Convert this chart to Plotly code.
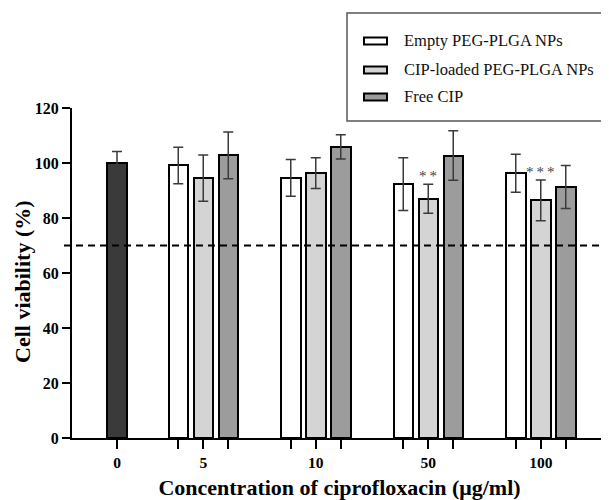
import plotly.graph_objects as go

# ---- data ----
groups = ["0", "5", "10", "50", "100"]
control_name = "Control"
control_mean = [100.0]
control_sd = [4.2]
series_names = ["Empty PEG-PLGA NPs", "CIP-loaded PEG-PLGA NPs", "Free CIP"]
empty_mean = [99.1, 94.6, 92.3, 96.3]
empty_sd = [6.6, 6.7, 9.6, 6.9]
cip_np_mean = [94.5, 96.3, 87.0, 86.4]
cip_np_sd = [8.4, 5.6, 5.3, 7.4]
free_mean = [102.8, 105.9, 102.7, 91.3]
free_sd = [8.5, 4.4, 9.0, 7.8]
significance = ["", "", "**", "***"]  # above CIP-loaded bars
threshold = 70
yticks = [0, 20, 40, 60, 80, 100, 120]

# ---- layout helpers (positions in bar-slot units) ----
first_center = 1.8
centers = [first_center] + [5.25 + 4.5 * i for i in range(len(groups) - 1)]
bar_w = 0.78
offsets = [-1, 0, 1]
fills = ["#ffffff", "#d4d4d4", "#9c9c9c"]
serif = "Liberation Serif, Times New Roman, serif"

# page has an 8px body margin; size the figure to fit the 609x500 window
PAGE = 8
W, H = 609 - PAGE, 500 - PAGE
ml, mr, mt, mb = 64, 2, 100, 62
pw, ph = W - ml - mr, H - mt - mb

def px(x):  # screen x -> paper
    return (x - PAGE - ml) / pw

def py(y):  # screen y -> paper
    return (PAGE + H - mb - y) / ph

fig = go.Figure()

err_style = dict(type="data", visible=True, color="#3a3a3a", thickness=1.5, width=5)

fig.add_trace(go.Bar(
    x=[centers[0]], y=control_mean, width=bar_w, name=control_name,
    marker=dict(color="#3a3a3a", line=dict(color="#000000", width=2)),
    error_y=dict(array=control_sd, **err_style), showlegend=False))

all_means = [empty_mean, cip_np_mean, free_mean]
all_sds = [empty_sd, cip_np_sd, free_sd]
for k, name in enumerate(series_names):
    xs = [c + offsets[k] for c in centers[1:]]
    fig.add_trace(go.Bar(
        x=xs, y=all_means[k], width=bar_w, name=name,
        marker=dict(color=fills[k], line=dict(color="#000000", width=2)),
        error_y=dict(array=all_sds[k], **err_style), showlegend=False))

# significance marks
for i, s in enumerate(significance):
    if s:
        fig.add_annotation(x=centers[i + 1] + offsets[1], y=cip_np_mean[i] + cip_np_sd[i],
                           text="\u2009".join(s), showarrow=False, yanchor="bottom", yshift=-2,
                           font=dict(family=serif, size=15, color="#444444"))

# threshold dashed line
fig.add_shape(type="line", xref="paper", yref="y", x0=px(64), x1=px(608), y0=threshold, y1=threshold,
              line=dict(color="#000000", width=2, dash="7px,5px"))

# tick positions: every bar, labels only at group centres
tickvals, ticktext = [centers[0]], [groups[0]]
for i, c in enumerate(centers[1:]):
    for o in offsets:
        tickvals.append(c + o)
        ticktext.append(groups[i + 1] if o == 0 else "")

# manual legend
fig.add_shape(type="rect", xref="paper", yref="paper", x0=px(347), x1=px(640), y0=py(121), y1=py(13),
              line=dict(color="#555555", width=1.5), fillcolor="rgba(0,0,0,0)")
rows = [41, 70, 97]
for k, name in enumerate(series_names):
    fig.add_shape(type="rect", xref="paper", yref="paper", x0=px(364), x1=px(387),
                  y0=py(rows[k] + 3.5), y1=py(rows[k] - 3.5),
                  line=dict(color="#000000", width=2), fillcolor=fills[k])
    fig.add_annotation(xref="paper", yref="paper", x=px(402), y=py(rows[k]), text=name,
                       showarrow=False, xanchor="left", yanchor="middle",
                       font=dict(family=serif, size=16.5, color="#111111"))

# y-axis title as annotation (positioned like the reference)
fig.add_annotation(xref="paper", yref="paper", x=px(22), y=py(282), text="<b>Cell viability (%)</b>",
                   textangle=-90, showarrow=False, xanchor="center", yanchor="middle",
                   font=dict(family=serif, size=22, color="#000000"))

fig.update_layout(
    width=W, height=H,
    margin=dict(l=ml, r=mr, t=mt, b=mb),
    paper_bgcolor="white", plot_bgcolor="white",
    barmode="overlay", bargap=0,
    xaxis=dict(range=[0, pw / 25], tickvals=tickvals, ticktext=ticktext,
               showline=True, linecolor="#000000", linewidth=2, ticks="outside", ticklen=9,
               tickwidth=2, tickcolor="#000000", showgrid=False, zeroline=False,
               tickfont=dict(family=serif, size=15.5, color="#000000", weight="bold"),
               title=dict(text="<b>Concentration of ciprofloxacin (μg/ml)</b>",
                          font=dict(family=serif, size=22, color="#000000"), standoff=10)),
    yaxis=dict(range=[0, 120], tickvals=yticks, showline=True, linecolor="#000000", linewidth=2,
               ticks="outside", ticklen=8, tickwidth=2, tickcolor="#000000", showgrid=False,
               zeroline=False,
               tickfont=dict(family=serif, size=16, color="#000000", weight="bold")),
)

fig.write_html("out.html")
